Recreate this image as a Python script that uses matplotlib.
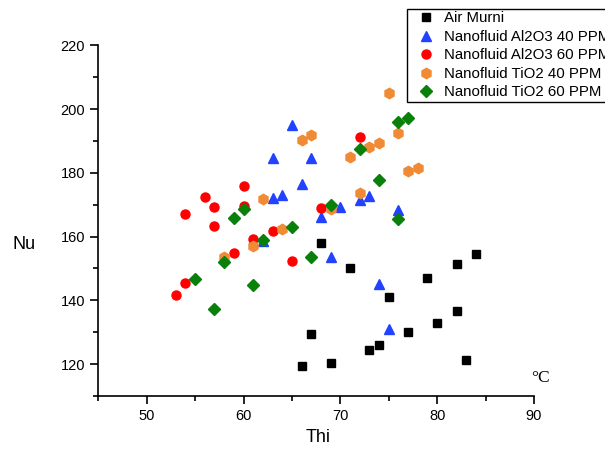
import matplotlib
matplotlib.use("Agg")
import matplotlib.pyplot as plt
from matplotlib.ticker import MultipleLocator

plt.rcParams['font.family'] = ['Liberation Sans', 'DejaVu Sans']

# Air Murni
air_x = [68, 71, 75, 79, 82, 84, 67, 66, 69, 73, 74, 77, 80, 82, 83]
air_y = [158.0, 150.2, 141.2, 147.1, 151.3, 154.5, 129.3, 119.5, 120.4, 124.4, 126.0, 130.1, 132.9, 136.7, 121.4]

# Nanofluid Al2O3 40 PPM
al40_x = [65, 63, 67, 66, 64, 63, 68, 70, 72, 73, 76, 69, 62, 74, 75]
al40_y = [194.9, 184.8, 184.6, 176.6, 173.2, 172.1, 166.1, 169.2, 171.4, 172.6, 168.2, 153.7, 158.6, 145.2, 131.1]

# Nanofluid Al2O3 60 PPM
al60_x = [53, 54, 54, 56, 57, 57, 60, 60, 59, 61, 63, 65, 68, 72]
al60_y = [141.8, 145.5, 167.2, 172.4, 169.2, 163.2, 175.8, 169.6, 154.9, 159.3, 161.6, 152.4, 169.1, 191.3]

# Nanofluid TiO2 40 PPM
ti40_x = [58, 61, 62, 64, 66, 67, 69, 71, 72, 73, 74, 75, 76, 77, 78]
ti40_y = [153.7, 157.0, 171.9, 162.5, 190.4, 191.8, 168.6, 184.9, 173.6, 188.2, 189.4, 205.1, 192.5, 180.6, 181.5]

# Nanofluid TiO2 60 PPM
ti60_x = [55, 57, 58, 59, 60, 61, 62, 65, 67, 69, 72, 74, 76, 76, 77]
ti60_y = [146.6, 137.2, 152.1, 165.7, 168.6, 144.7, 159.0, 163.0, 153.7, 169.8, 187.5, 177.6, 165.6, 195.8, 197.1]

labels = ["Air Murni", "Nanofluid Al2O3 40 PPM", "Nanofluid Al2O3 60 PPM",
          "Nanofluid TiO2 40 PPM", "Nanofluid TiO2 60 PPM"]

fig = plt.figure(figsize=(6.05, 4.5), dpi=100)
ax = fig.add_axes([98.3/605, 1-396/450, (534-98.3)/605, (396-45.3)/450])

ax.plot(air_x, air_y, 's', color='black', ms=6, ls='none', label=labels[0])
ax.plot(al40_x, al40_y, '^', color='#2142ff', ms=7.5, ls='none', label=labels[1])
ax.plot(al60_x, al60_y, 'o', color='#ff0000', ms=6.5, ls='none', label=labels[2])
ax.plot(ti40_x, ti40_y, 'h', color='#f08a35', ms=7.5, ls='none', label=labels[3])
ax.plot(ti60_x, ti60_y, 'D', color='#08800a', ms=6, ls='none', label=labels[4])

ax.set_xlim(45, 90)
ax.set_ylim(110, 220)
ax.xaxis.set_major_locator(MultipleLocator(10))
ax.xaxis.set_minor_locator(MultipleLocator(5))
ax.yaxis.set_major_locator(MultipleLocator(20))
ax.yaxis.set_minor_locator(MultipleLocator(10))
for s in ['top', 'right']:
    ax.spines[s].set_visible(False)
for s in ['left', 'bottom']:
    ax.spines[s].set_linewidth(1.2)
ax.tick_params(which='major', direction='out', length=6, width=1.2, labelsize=10.5)
ax.tick_params(which='minor', direction='out', length=3.5, width=1.2)

fig.text(24/605, 1-245/450, "Nu", fontsize=13, ha='center', va='center')
fig.text(318/605, 1-438/450, "Thi", fontsize=13, ha='center', va='center')
fig.text(540/605, 1-378/450, "°C", fontsize=12.5, ha='center', va='center',
         family=['Liberation Serif', 'DejaVu Serif'])

leg = fig.legend(loc='upper left', bbox_to_anchor=(407/605, 1-9/450),
                 bbox_transform=fig.transFigure, fancybox=False, framealpha=1,
                 edgecolor='black', fontsize=10.8, handlelength=2.2,
                 handletextpad=0.15, borderpad=0.15, labelspacing=0.3,
                 borderaxespad=0, numpoints=1)
leg.get_frame().set_linewidth(1.0)

fig.savefig("out.png", dpi=100)
